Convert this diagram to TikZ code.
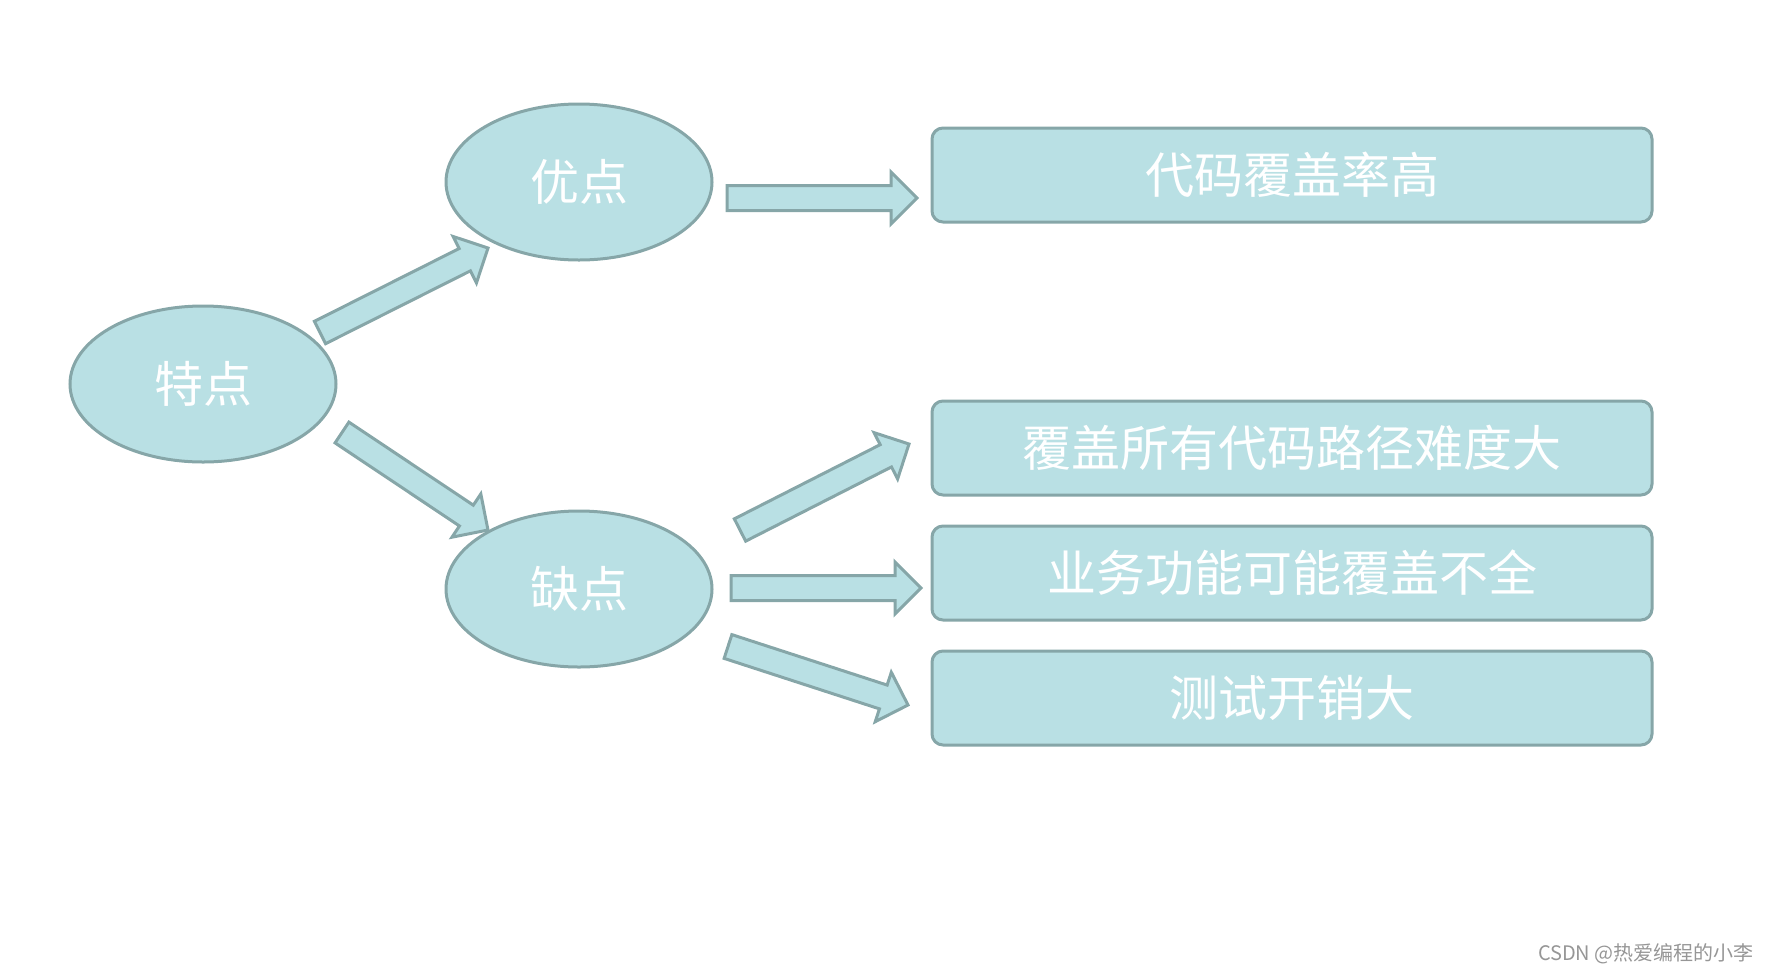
\documentclass[tikz,border=0pt]{standalone}
\usepackage{fontspec}
\newfontfamily\cjk{Noto Sans CJK SC}
\usetikzlibrary{calc,shapes.geometric}
\definecolor{bfill}{RGB}{185,224,228}
\definecolor{bline}{RGB}{134,166,168}
\definecolor{wm}{RGB}{150,150,150}
\tikzset{
  base/.style={fill=bfill,draw=bline,line width=3pt},
  oval/.style={base,ellipse,minimum width=266pt,minimum height=156pt,inner sep=0pt,
    font=\cjk\fontsize{49}{52}\selectfont,text=white},
  rbox/.style={base,rectangle,rounded corners=11pt,minimum width=720pt,minimum height=94pt,
    inner sep=0pt,font=\cjk\fontsize{49}{52}\selectfont,text=white},
  barrowstyle/.style={base,line join=miter}
}
\newcommand\blockarrow[2]{%
  \draw[barrowstyle]
    ($(#1)!12.5pt!90:(#2)$) --
    ($(#2)!26pt!(#1)!12.5pt!-90:(#1)$) --
    ($(#2)!26pt!(#1)!26pt!-90:(#1)$) --
    (#2) --
    ($(#2)!26pt!(#1)!26pt!90:(#1)$) --
    ($(#2)!26pt!(#1)!12.5pt!90:(#1)$) --
    ($(#1)!12.5pt!-90:(#2)$) -- cycle;}
\begin{document}
\begin{tikzpicture}[x=1pt,y=-1pt]
\useasboundingbox (0,0) rectangle (1769,975);
\node[oval] (td) at (203,384) {特点};
\node[oval] (yd) at (579,182) {优点};
\node[oval] (qd) at (579,589) {缺点};
\node[rbox] (b1) at (1292,175) {代码覆盖率高};
\node[rbox] (b2) at (1292,448) {覆盖所有代码路径难度大};
\node[rbox] (b3) at (1292,573) {业务功能可能覆盖不全};
\node[rbox] (b4) at (1292,698) {测试开销大};
\coordinate (a1s) at (320,332.5); \coordinate (a1e) at (488,248);
\coordinate (a2s) at (727,198);   \coordinate (a2e) at (917,198);
\coordinate (a3s) at (342,432.5); \coordinate (a3e) at (488,530);
\coordinate (a4s) at (740,530);   \coordinate (a4e) at (909,444);
\coordinate (a5s) at (731,588);   \coordinate (a5e) at (921,588);
\coordinate (a6s) at (728,646.5); \coordinate (a6e) at (908,705);
\blockarrow{a1s}{a1e}
\blockarrow{a2s}{a2e}
\blockarrow{a3s}{a3e}
\blockarrow{a4s}{a4e}
\blockarrow{a5s}{a5e}
\blockarrow{a6s}{a6e}
\node[anchor=east,text=wm,font=\cjk\fontsize{20}{22}\selectfont,inner sep=0pt] (wmk) at (1754,954) {CSDN @热爱编程的小李};
\end{tikzpicture}
\end{document}
